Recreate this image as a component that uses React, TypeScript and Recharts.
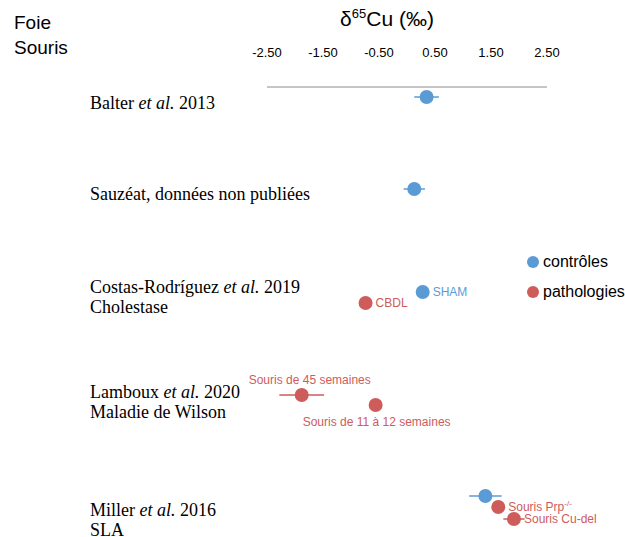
import React from 'react';
import { ScatterChart, Scatter, XAxis, YAxis, ErrorBar, Legend } from 'recharts';

// delta65Cu values (‰)
const xTicks = [-2.5, -1.5, -0.5, 0.5, 1.5, 2.5];

const studyLines = [
  ['Balter *et al.* 2013'],
  ['Sauzéat, données non publiées'],
  ['Costas-Rodríguez *et al.* 2019', 'Cholestase'],
  ['Lamboux *et al.* 2020', 'Maladie de Wilson'],
  ['Miller *et al.* 2016', 'SLA'],
];
const studyRows = [0.16, 1.07, 2.1, 3.145, 4.33];

const controlDelta = [0.35, 0.13, 0.28, 1.4];
const controlErr = [0.22, 0.19, 0, 0.29];
const controlRow = [0.1, 1.02, 2.05, 4.09];
const controlLabels = ['', '', 'SHAM', ''];

const pathoDelta = [-0.74, -1.88, -0.56, 1.63, 1.91];
const pathoErr = [0.1, 0.4, 0.05, 0.1, 0.19];
const pathoRow = [2.16, 3.08, 3.18, 4.2, 4.32];
const pathoLabels = ['CBDL', 'Souris de 45 semaines', 'Souris de 11 à 12 semaines', 'Souris Prp^-/-', 'Souris Cu-del'];

const BLUE = '#5b9bd5';
const RED = '#cd5c5a';
const SANS = '"Liberation Sans", Arial, sans-serif';
const SERIF = '"Liberation Serif", "Times New Roman", serif';

const controls = controlDelta.map((d, i) => ({ delta: d, err: controlErr[i], row: controlRow[i], label: controlLabels[i] }));
const pathologies = pathoDelta.map((d, i) => ({ delta: d, err: pathoErr[i], row: pathoRow[i], label: pathoLabels[i] }));

// where each label sits relative to its dot
const controlPlace = ['right', 'right', 'right', 'right'];
const pathoPlace = ['right', 'above', 'below', 'right', 'right'];

function labelText(label: string) {
  const [main, sup] = label.split('^');
  return (
    <>
      {main}
      {sup && <tspan dy={-5} fontSize={8}>{sup}</tspan>}
    </>
  );
}

const makeShape = (color: string, place: string[]) => (props: any) => {
  const { cx, cy, index, payload } = props;
  const where = place[index];
  let label = null;
  if (payload.label) {
    if (where === 'above') {
      label = <text x={cx + 8} y={cy - 11} textAnchor="middle" fill={color} fontSize={12} fontFamily={SANS}>{labelText(payload.label)}</text>;
    } else if (where === 'below') {
      label = <text x={cx + 1} y={cy + 21} textAnchor="middle" fill={color} fontSize={12} fontFamily={SANS}>{labelText(payload.label)}</text>;
    } else {
      label = <text x={cx + 10} y={cy + 4} textAnchor="start" fill={color} fontSize={12} fontFamily={SANS}>{labelText(payload.label)}</text>;
    }
  }
  return (
    <g>
      <circle cx={cx} cy={cy} r={7} fill={color} />
      {label}
    </g>
  );
};

function renderLine(line: string) {
  return line.split('*').map((part, i) => (
    <tspan key={i} fontStyle={i % 2 === 1 ? 'italic' : 'normal'}>{part}</tspan>
  ));
}

const StudyTick = ({ y, payload }: any) => {
  const idx = studyRows.indexOf(payload.value);
  const lines = studyLines[idx] || [];
  const start = y - ((lines.length - 1) * 20) / 2;
  return (
    <g>
      {lines.map((ln, i) => (
        <text key={i} x={90} y={start + i * 20} dy="0.35em" textAnchor="start" fill="#000" fontSize={18} fontFamily={SERIF}>
          {renderLine(ln)}
        </text>
      ))}
    </g>
  );
};

const renderLegend = (props: any) => (
  <div style={{ fontFamily: SANS, fontSize: 16, color: '#000' }}>
    {(props.payload || []).map((p: any) => (
      <div key={p.value} style={{ display: 'flex', alignItems: 'center', height: 30 }}>
        <span style={{ width: 12, height: 12, borderRadius: 6, background: p.color, display: 'inline-block', marginRight: 4 }} />
        {p.value}
      </div>
    ))}
  </div>
);

export default function App() {
  return (
    <div style={{ position: 'absolute', left: 0, top: 0, width: 625, height: 537, background: '#fff', overflow: 'hidden' }}>
      <div style={{ position: 'absolute', left: 14, top: 10, fontFamily: SANS, fontSize: 19, lineHeight: '25px', color: '#000' }}>
        Foie<br />Souris
      </div>
      <div style={{ position: 'absolute', left: 287, width: 200, top: 6, textAlign: 'center', fontFamily: SANS, fontSize: 21, color: '#000' }}>
        δ<sup style={{ fontSize: 13 }}>65</sup>Cu (‰)
      </div>
      <ScatterChart width={625} height={537} margin={{ top: 57, right: 78, bottom: 0, left: 0 }}>
        <XAxis
          type="number"
          dataKey="delta"
          orientation="top"
          domain={[-2.5, 2.5]}
          ticks={xTicks}
          tickFormatter={(v: number) => v.toFixed(2)}
          tickLine={false}
          tickMargin={24}
          axisLine={{ stroke: '#8c8c8c' }}
          tick={{ fill: '#000', fontSize: 13, fontFamily: SANS }}
          height={30}
        />
        <YAxis
          type="number"
          dataKey="row"
          domain={[0, 4.5]}
          reversed
          ticks={studyRows}
          interval={0}
          width={267}
          tickLine={false}
          axisLine={false}
          tick={<StudyTick />}
        />
        <Legend
          layout="vertical"
          align="center"
          verticalAlign="middle"
          content={renderLegend}
          wrapperStyle={{ position: 'absolute', left: 527, top: 247, width: 110 }}
        />
        <Scatter name="contrôles" data={controls} fill={BLUE} shape={makeShape(BLUE, controlPlace)} isAnimationActive={false}>
          <ErrorBar dataKey="err" direction="x" width={0} stroke={BLUE} strokeWidth={1.5} />
        </Scatter>
        <Scatter name="pathologies" data={pathologies} fill={RED} shape={makeShape(RED, pathoPlace)} isAnimationActive={false}>
          <ErrorBar dataKey="err" direction="x" width={0} stroke={RED} strokeWidth={1.5} />
        </Scatter>
      </ScatterChart>
    </div>
  );
}
